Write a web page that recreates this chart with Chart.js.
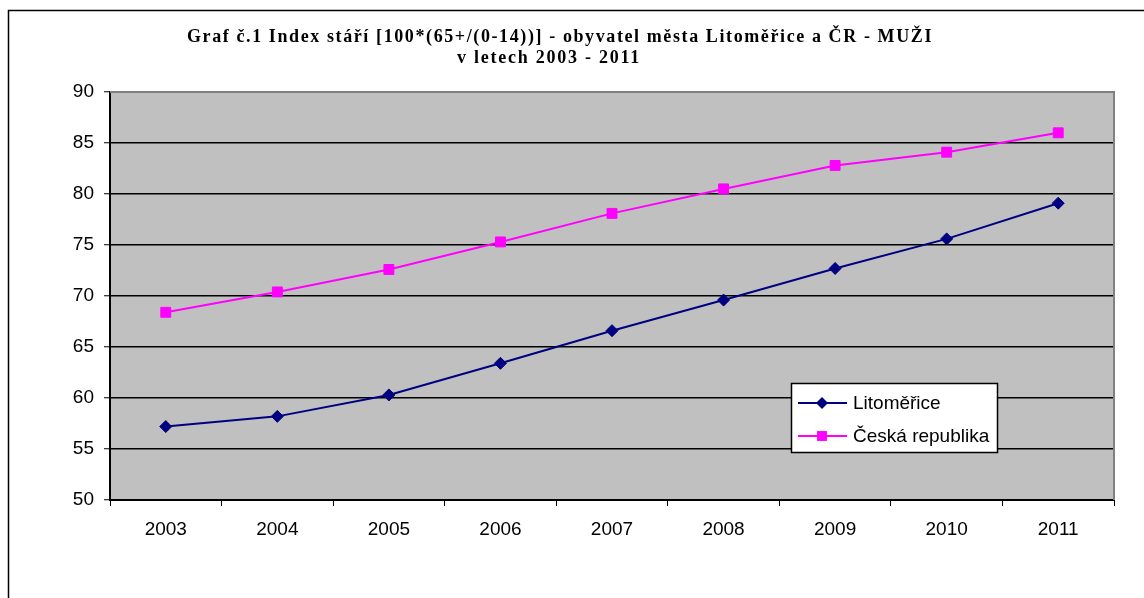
<!DOCTYPE html>
<html lang="cs">
<head>
<meta charset="utf-8">
<title>Index stáří – Litoměřice a ČR – muži</title>
<script src="https://cdn.jsdelivr.net/npm/chart.js@4/dist/chart.umd.min.js"></script>
<style>
  html, body { margin: 0; padding: 0; background: #fff; }
  #wrap { width: 1144px; height: 598px; position: relative; }
</style>
</head>
<body>
<div id="wrap"><canvas id="chart" width="1144" height="598"></canvas></div>
<script>
// Roky sledovaného období
const years = ['2003', '2004', '2005', '2006', '2007', '2008', '2009', '2010', '2011'];

// Index stáří mužů – město Litoměřice
const litomerice = [57.2, 58.2, 60.3, 63.4, 66.6, 69.6, 72.7, 75.6, 79.1];

// Index stáří mužů – Česká republika
const ceskaRepublika = [68.4, 70.4, 72.6, 75.3, 78.1, 80.5, 82.8, 84.1, 86.0];

// Popisky svislé osy
const yTicks = [50, 55, 60, 65, 70, 75, 80, 85, 90];

const seriesNames = ['Litoměřice', 'Česká republika'];
const titleLines = [
  'Graf č.1 Index stáří [100*(65+/(0-14))] - obyvatel města Litoměřice a ČR - MUŽI',
  'v letech 2003 - 2011'
];

const AXIS_FONT = 'Liberation Sans, Arial, sans-serif';
const AXIS_SIZE = 19;

// Pozadí, rámeček grafu, šedá plocha grafu
const framePlugin = {
  id: 'frame',
  beforeDraw(chart) {
    const { ctx, chartArea: a } = chart;
    ctx.save();
    ctx.fillStyle = '#ffffff';
    ctx.fillRect(0, 0, chart.width, chart.height);
    ctx.strokeStyle = '#000000';
    ctx.lineWidth = 1.5;
    ctx.strokeRect(8.5, 10.5, chart.width + 20, chart.height + 20);
    ctx.fillStyle = '#c0c0c0';
    ctx.fillRect(a.left, a.top, a.right - a.left, a.bottom - a.top);
    ctx.restore();
  },
  afterDatasetsDraw(chart) {
    const { ctx, chartArea: a } = chart;
    ctx.save();
    ctx.strokeStyle = '#808080';
    ctx.lineWidth = 2;
    ctx.beginPath();
    ctx.moveTo(a.left, a.top);
    ctx.lineTo(a.right, a.top);
    ctx.lineTo(a.right, a.bottom);
    ctx.stroke();
    ctx.restore();
  }
};

// Dvouřádkový nadpis
const titlePlugin = {
  id: 'titleLines',
  afterDraw(chart) {
    const { ctx } = chart;
    const spec = [
      { text: titleLines[0], cx: 560, y: 37, width: 746 },
      { text: titleLines[1], cx: 549, y: 58, width: 184 }
    ];
    ctx.save();
    ctx.fillStyle = '#000';
    ctx.textBaseline = 'middle';
    ctx.textAlign = 'left';
    ctx.font = 'bold 18px "Liberation Serif", "Times New Roman", serif';
    spec.forEach(s => {
      ctx.letterSpacing = '0px';
      const w = ctx.measureText(s.text).width;
      const n = [...s.text].length;
      const sp = (s.width - w) / n;
      ctx.letterSpacing = sp + 'px';
      ctx.fillText(s.text, s.cx - s.width / 2, s.y);
    });
    ctx.restore();
  }
};

// Legenda uvnitř plochy grafu
const legendPlugin = {
  id: 'boxLegend',
  afterDraw(chart) {
    const { ctx } = chart;
    const box = { x: 791.5, y: 383.5, w: 206, h: 69 };
    ctx.save();
    ctx.fillStyle = '#ffffff';
    ctx.fillRect(box.x, box.y, box.w, box.h);
    ctx.strokeStyle = '#000';
    ctx.lineWidth = 1.5;
    ctx.strokeRect(box.x, box.y, box.w, box.h);
    chart.data.datasets.forEach((ds, i) => {
      const cy = 403 + i * 33;
      ctx.strokeStyle = ds.borderColor;
      ctx.lineWidth = ds.borderWidth;
      ctx.beginPath();
      ctx.moveTo(798, cy);
      ctx.lineTo(847, cy);
      ctx.stroke();
      ctx.fillStyle = ds.pointBackgroundColor;
      ctx.beginPath();
      const mx = 822, r = ds.pointRadius;
      if (ds.pointStyle === 'rectRot') {
        ctx.moveTo(mx - r, cy);
        ctx.lineTo(mx, cy - r);
        ctx.lineTo(mx + r, cy);
        ctx.lineTo(mx, cy + r);
        ctx.closePath();
      } else {
        const s = Math.SQRT1_2 * r;
        ctx.rect(mx - s, cy - s, 2 * s, 2 * s);
      }
      ctx.fill();
      ctx.fillStyle = '#000';
      ctx.font = AXIS_SIZE + 'px ' + AXIS_FONT;
      ctx.textBaseline = 'middle';
      ctx.textAlign = 'left';
      ctx.fillText(ds.label, 853, cy + 1);
    });
    ctx.restore();
  }
};

new Chart(document.getElementById('chart'), {
  type: 'line',
  data: {
    labels: years,
    datasets: [
      {
        label: seriesNames[0],
        data: litomerice,
        borderColor: '#000080',
        backgroundColor: '#000080',
        pointBackgroundColor: '#000080',
        pointBorderColor: '#000080',
        borderWidth: 2,
        pointStyle: 'rectRot',
        pointRadius: 6,
        pointBorderWidth: 1,
        tension: 0
      },
      {
        label: seriesNames[1],
        data: ceskaRepublika,
        borderColor: '#ff00ff',
        backgroundColor: '#ff00ff',
        pointBackgroundColor: '#ff00ff',
        pointBorderColor: '#ff00ff',
        borderWidth: 2,
        pointStyle: 'rect',
        pointRadius: 7,
        pointBorderWidth: 1,
        tension: 0
      }
    ]
  },
  options: {
    responsive: false,
    animation: false,
    layout: { padding: { left: 0, right: 30, top: 92, bottom: 0 } },
    plugins: {
      legend: { display: false },
      title: { display: false },
      tooltip: { enabled: false }
    },
    scales: {
      x: {
        type: 'category',
        offset: true,
        grid: {
          offset: true,
          drawOnChartArea: false,
          drawTicks: true,
          tickLength: 6,
          tickColor: '#000',
          tickWidth: 1
        },
        border: { display: true, color: '#000', width: 2 },
        ticks: {
          color: '#000',
          font: { family: AXIS_FONT, size: AXIS_SIZE },
          padding: 12,
          maxRotation: 0,
          autoSkip: false
        },
        afterFit(scale) { scale.height = 98; }
      },
      y: {
        min: 50,
        max: 90,
        afterBuildTicks(scale) { scale.ticks = yTicks.map(v => ({ value: v })); },
        grid: {
          color: ctx => (ctx.tick && ctx.tick.value === 90) ? 'rgba(0,0,0,0)' : '#000',
          lineWidth: 1.5,
          drawTicks: true,
          tickLength: 6,
          tickColor: '#000',
          tickWidth: 1
        },
        border: { display: true, color: '#000', width: 2 },
        ticks: {
          color: '#000',
          font: { family: AXIS_FONT, size: AXIS_SIZE },
          padding: 10
        },
        afterFit(scale) { scale.width = 110; }
      }
    }
  },
  plugins: [framePlugin, titlePlugin, legendPlugin]
});
</script>
</body>
</html>
